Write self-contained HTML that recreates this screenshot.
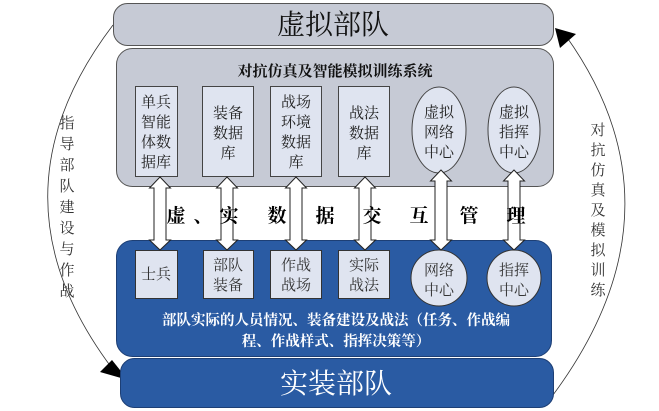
<!DOCTYPE html>
<html><head><meta charset="utf-8"><style>
html,body{margin:0;padding:0;background:#fff;}
svg{display:block;}
text{font-family:"Liberation Serif","Noto Serif CJK SC","Noto Sans CJK SC",serif;}
</style></head><body>
<svg width="659" height="411" viewBox="0 0 659 411" xmlns="http://www.w3.org/2000/svg">
<path d="M113,25 Q-20,200 118,376" fill="none" stroke="#333" stroke-width="0.8"/>
<polygon points="128,380 100,372 112,360" fill="#000"/>
<path d="M553,395 Q690,210 566,36" fill="none" stroke="#333" stroke-width="0.8"/>
<polygon points="555,28 576,34 560,48" fill="#000"/>
<g font-size="15" fill="#333" text-anchor="middle">
<text x="67" y="128">指</text><text x="67" y="149">导</text><text x="67" y="170">部</text><text x="67" y="191">队</text><text x="67" y="212">建</text><text x="67" y="233">设</text><text x="67" y="254">与</text><text x="67" y="275">作</text><text x="67" y="296">战</text>
<text x="598" y="135">对</text><text x="598" y="155">抗</text><text x="598" y="175">仿</text><text x="598" y="195">真</text><text x="598" y="215">及</text><text x="598" y="235">模</text><text x="598" y="255">拟</text><text x="598" y="275">训</text><text x="598" y="295">练</text>
</g>
<rect x="113.5" y="3.5" width="440" height="42" rx="14" fill="#c6cad5" stroke="#555"/>
<text x="333" y="34" font-size="28" text-anchor="middle" fill="#111">虚拟部队</text>
<rect x="116.5" y="48.5" width="437" height="138" rx="16" fill="#c6cad5" stroke="#555"/>
<text x="335" y="76" font-size="15" font-weight="bold" text-anchor="middle" fill="#111">对抗仿真及智能模拟训练系统</text>
<g fill="#dfe4f0" stroke="#444">
<rect x="135.5" y="86.5" width="42" height="90"/>
<rect x="202.5" y="86.5" width="51" height="90"/>
<rect x="270.5" y="86.5" width="51" height="90"/>
<rect x="338.5" y="86.5" width="51" height="90"/>
<ellipse cx="439" cy="130" rx="27" ry="43"/>
<ellipse cx="514" cy="130" rx="26" ry="43"/>
</g>
<g font-size="15" fill="#222" text-anchor="middle">
<text x="156" y="107">单兵</text><text x="156" y="127">智能</text><text x="156" y="147">体数</text><text x="156" y="167">据库</text>
<text x="228" y="118">装备</text><text x="228" y="138">数据</text><text x="228" y="158">库</text>
<text x="296" y="107">战场</text><text x="296" y="127">环境</text><text x="296" y="147">数据</text><text x="296" y="167">库</text>
<text x="364" y="118">战法</text><text x="364" y="138">数据</text><text x="364" y="158">库</text>
<text x="439" y="117">虚拟</text><text x="439" y="137">网络</text><text x="439" y="157">中心</text>
<text x="514" y="117">虚拟</text><text x="514" y="137">指挥</text><text x="514" y="157">中心</text>
</g>
<rect x="116.5" y="240.5" width="435" height="116" rx="16" fill="#2a5ba3" stroke="#1d3f75"/>
<g fill="#dfe4f0" stroke="#333">
<rect x="135.5" y="250.5" width="42" height="48"/>
<rect x="203.5" y="250.5" width="50" height="48"/>
<rect x="270.5" y="250.5" width="51" height="48"/>
<rect x="338.5" y="250.5" width="51" height="48"/>
<ellipse cx="439" cy="278" rx="28" ry="28"/>
<ellipse cx="514" cy="278" rx="27" ry="28"/>
</g>
<g font-size="15" fill="#333" text-anchor="middle">
<text x="156" y="279">士兵</text>
<text x="228" y="270">部队</text><text x="228" y="290">装备</text>
<text x="296" y="270">作战</text><text x="296" y="290">战场</text>
<text x="364" y="270">实际</text><text x="364" y="290">战法</text>
<text x="439" y="275">网络</text><text x="439" y="295">中心</text>
<text x="514" y="275">指挥</text><text x="514" y="295">中心</text>
</g>
<g font-size="14.5" font-weight="bold" fill="#fff" text-anchor="middle">
<text x="336" y="325">部队实际的人员情况、装备建设及战法（任务、作战编</text>
<text x="336" y="346">程、作战样式、指挥决策等）</text>
</g>
<rect x="120.5" y="358.5" width="433" height="49" rx="14" fill="#2a5ba3" stroke="#1d3f75"/>
<text x="336" y="393" font-size="28" fill="#fff" text-anchor="middle">实装部队</text>
<g fill="#fff" stroke="#222" stroke-width="1">
<polygon points="160,177 170.5,188 166,188 166,240 170.5,240 160,250 149.5,240 154,240 154,188 149.5,188"/>
<polygon points="227,177 237.5,188 233,188 233,240 237.5,240 227,250 216.5,240 221,240 221,188 216.5,188"/>
<polygon points="296,177 306.5,188 302,188 302,240 306.5,240 296,250 285.5,240 290,240 290,188 285.5,188"/>
<polygon points="365,177 375.5,188 371,188 371,240 375.5,240 365,250 354.5,240 359,240 359,188 354.5,188"/>
<polygon points="441,170 451.5,181 447,181 447,240 451.5,240 441,250 430.5,240 435,240 435,181 430.5,181"/>
<polygon points="514,170 524.5,181 520,181 520,240 524.5,240 514,250 503.5,240 508,240 508,181 503.5,181"/>
</g>
<g font-size="19" font-weight="bold" fill="#000" text-anchor="middle" style="font-family:'Noto Sans CJK SC',sans-serif">
<text x="176" y="222">虚</text><text x="203" y="222">、</text><text x="229" y="222">实</text><text x="277" y="222">数</text><text x="325" y="222">据</text><text x="372" y="222">交</text><text x="419" y="222">互</text><text x="469" y="222">管</text><text x="516" y="222">理</text>
</g>
</svg>
</body></html>
